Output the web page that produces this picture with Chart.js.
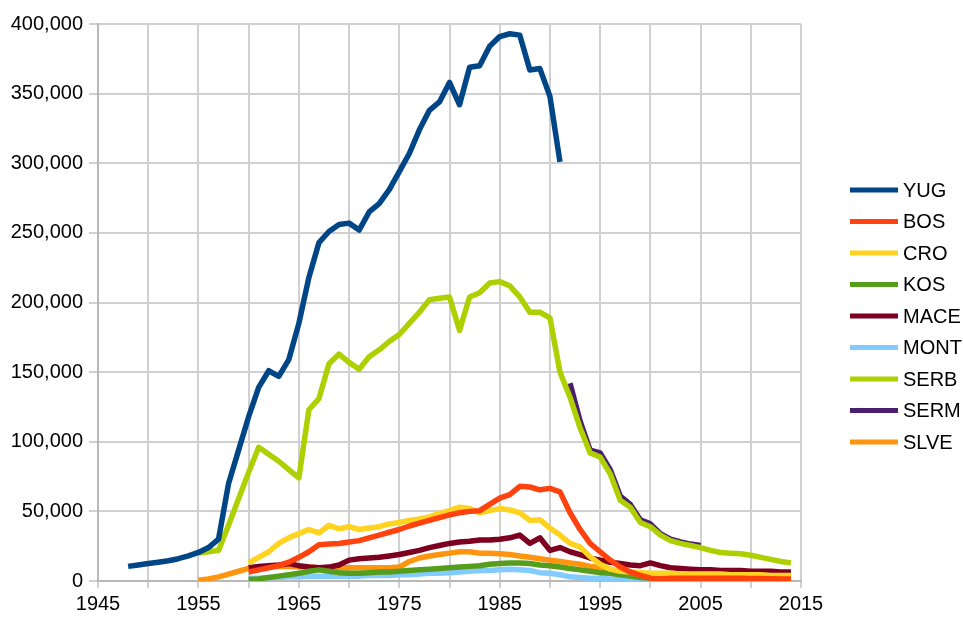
<!DOCTYPE html>
<html>
<head>
<meta charset="utf-8">
<script src="https://cdn.jsdelivr.net/npm/chart.js@4"></script>
<style>
  body { margin: 0; background: #fff; }
  #wrap { width: 963px; height: 617px; }
</style>
</head>
<body>
<div id="wrap"><canvas id="chart" width="963" height="617"></canvas></div>
<script>
// series names in legend order
const seriesNames = ['YUG', 'BOS', 'CRO', 'KOS', 'MACE', 'MONT', 'SERB', 'SERM', 'SLVE'];
const seriesColors = ['#004586', '#ff420e', '#ffd320', '#579d1c', '#7e0021', '#83caff', '#aecf00', '#4b1f6f', '#ff950e'];

// first year of each series
const startYears = [1948, 1960, 1960, 1960, 1960, 1960, 1955, 1992, 1955];

// one value per year, starting at the matching start year
const yug = [10500, 11500, 12500, 13500, 14500, 16000, 18000, 20500, 24000, 30000,
  70000, 94000, 118000, 139000, 151000, 147000, 159000, 185000, 218000, 243000,
  251000, 256000, 257000, 252000, 265000, 271000, 281000, 294000, 307000, 324000,
  338000, 344000, 358000, 342000, 369000, 370000, 384000, 391000, 393000, 392000,
  367000, 368000, 348000, 301000];
const bos = [6500, 8000, 9500, 11000, 13500, 17000, 21000, 26000, 26500, 27000,
  28000, 29000, 31000, 33000, 35000, 37000, 39500, 41500, 43500, 45500,
  47500, 49000, 50000, 50500, 55000, 59500, 62000, 68000, 67500, 65500,
  66500, 64000, 49000, 37000, 27000, 21000, 15000, 10000, 6500, 4000,
  2000, 1500, 2000, 2000, 2000, 2000, 2000, 2000, 2000, 2000,
  1800, 1800, 1600, 1500, 1500];
const cro = [13000, 17000, 21000, 27000, 31000, 34000, 37000, 34500, 40000, 37500,
  39000, 37000, 38000, 39000, 41000, 42000, 43500, 44500, 46000, 48500,
  50500, 53000, 52000, 49000, 50500, 52000, 51000, 49000, 43500, 44000,
  38000, 33000, 27000, 24500, 17500, 12000, 8500, 7000, 6500, 6000,
  5500, 5500, 5500, 5000, 5000, 5000, 5000, 5000, 4500, 4500,
  4500, 4500, 4000, 4000, 4000];
const kos = [1000, 1500, 2500, 3500, 4500, 5500, 7000, 8000, 7000, 6000,
  5500, 5500, 6000, 6500, 6500, 7000, 7500, 8000, 8500, 9000,
  9500, 10000, 10500, 11000, 12000, 12500, 13000, 13000, 12500, 11500,
  11000, 10000, 9000, 8000, 7000, 6000, 5500, 4500, 3500, 2500,
  2000, 1500, 1000, 1000, 1000, 1000, 1000, 1000, 800, 800,
  800, 700, 600, 500, 500];
const mace = [9500, 10500, 11000, 11500, 12500, 11000, 10000, 9500, 10000, 11500,
  15000, 16000, 16500, 17000, 18000, 19000, 20500, 22000, 24000, 25500,
  27000, 28000, 28500, 29500, 29500, 30000, 31000, 33000, 27000, 31000,
  22000, 24000, 21000, 19000, 16500, 15000, 13500, 12500, 11500, 11000,
  13000, 11000, 9500, 9000, 8500, 8000, 8000, 7500, 7500, 7500,
  7000, 7000, 7000, 6500, 6500];
const mont = [2000, 2000, 2500, 2500, 3000, 3000, 3500, 3500, 3500, 3500,
  3500, 3500, 4000, 4000, 4000, 4500, 4500, 5000, 5500, 5500,
  6000, 6500, 7000, 7500, 7500, 8000, 8500, 8000, 7500, 6000,
  5500, 4500, 3000, 2500, 2000, 2000, 1500, 1500, 1000, 1000,
  1000];
const serb = [20000, 21000, 22000, 40000, 59000, 78000, 96000, 91000, 86000, 80000,
  74000, 123000, 131000, 156000, 163000, 157000, 152000, 161000, 166000, 172000,
  177000, 185000, 193000, 202000, 203000, 204000, 180000, 204000, 207000, 214000,
  215000, 212000, 204000, 193000, 193000, 189000, 150000, 132000, 110000, 92000,
  89000, 77000, 58000, 53000, 42000, 39000, 33000, 29000, 27000, 25500,
  24000, 22000, 20500, 20000, 19500, 18500, 17000, 15500, 14000, 13000];
const serm = [142000, 115000, 94000, 92000, 80000, 61000, 55000, 44000, 41000, 34000,
  30000, 28000, 26500, 25500];
const slve = [500, 1500, 3000, 5000, 7000, 9000, 10000, 10000, 10500, 10500,
  10000, 10000, 9500, 9500, 9500, 9500, 9500, 9500, 9500, 9500,
  10000, 14000, 16500, 18000, 19000, 20000, 21000, 21000, 20000, 20000,
  19500, 19000, 18000, 17000, 16000, 15000, 14000, 13000, 12000, 10500,
  9500, 8000, 6500, 5500, 4500, 4000, 3500, 3500, 3000, 3000,
  3000, 3000, 2500, 2500, 2500, 2500, 2500, 2000, 2000, 2000];

const seriesValues = [yug, bos, cro, kos, mace, mont, serb, serm, slve];

// x axis: 1945..2015, grid every 5 years, label every 10
const xMin = 1945, xMax = 2015, xStep = 5;
const yMin = 0, yMax = 400000, yStep = 50000;

function toPoints(start, values) {
  return values.map((v, i) => ({ x: start + i, y: v }));
}

const datasets = seriesNames.map((name, i) => ({
  label: name,
  data: toPoints(startYears[i], seriesValues[i]),
  borderColor: seriesColors[i],
  backgroundColor: seriesColors[i],
  borderWidth: 5.5,
  pointRadius: 0,
  tension: 0,
  fill: false,
  borderJoinStyle: 'round'
}));

// legend drawn at the right, like the original sheet chart
const sideLegend = {
  id: 'sideLegend',
  afterDraw(chart) {
    const ctx = chart.ctx;
    ctx.save();
    ctx.font = '20px "Liberation Sans", Arial, sans-serif';
    ctx.textBaseline = 'middle';
    ctx.fillStyle = '#000';
    seriesNames.forEach((name, i) => {
      const y = 190 + i * 31.5;
      ctx.strokeStyle = seriesColors[i];
      ctx.lineWidth = 5;
      ctx.beginPath();
      ctx.moveTo(850, y);
      ctx.lineTo(898, y);
      ctx.stroke();
      ctx.fillText(name, 903, y + 1);
    });
    ctx.restore();
  }
};

new Chart(document.getElementById('chart'), {
  type: 'line',
  data: { datasets: datasets },
  options: {
    responsive: false,
    animation: false,
    layout: { padding: { left: 0, top: 24, right: 162, bottom: 0 } },
    plugins: {
      legend: { display: false },
      tooltip: { enabled: false }
    },
    scales: {
      x: {
        type: 'linear',
        min: xMin,
        max: xMax,
        afterFit(scale) { scale.height = 36; },
        grid: { color: '#d0d0d0', lineWidth: 2, tickLength: 7 },
        border: { color: '#b8b8b8', width: 2 },
        ticks: {
          stepSize: xStep,
          autoSkip: false,
          maxRotation: 0,
          padding: 4,
          color: '#000',
          font: { family: '"Liberation Sans", Arial, sans-serif', size: 20 },
          callback: v => ((v - xMin) % 10 === 0 ? String(v) : '')
        }
      },
      y: {
        min: yMin,
        max: yMax,
        afterFit(scale) { scale.width = 98; },
        grid: { color: '#d0d0d0', lineWidth: 2, tickLength: 9 },
        border: { color: '#b8b8b8', width: 2 },
        ticks: {
          stepSize: yStep,
          padding: 6,
          color: '#000',
          font: { family: '"Liberation Sans", Arial, sans-serif', size: 20 },
          callback: v => v.toLocaleString('en-US')
        }
      }
    }
  },
  plugins: [sideLegend]
});
</script>
</body>
</html>
